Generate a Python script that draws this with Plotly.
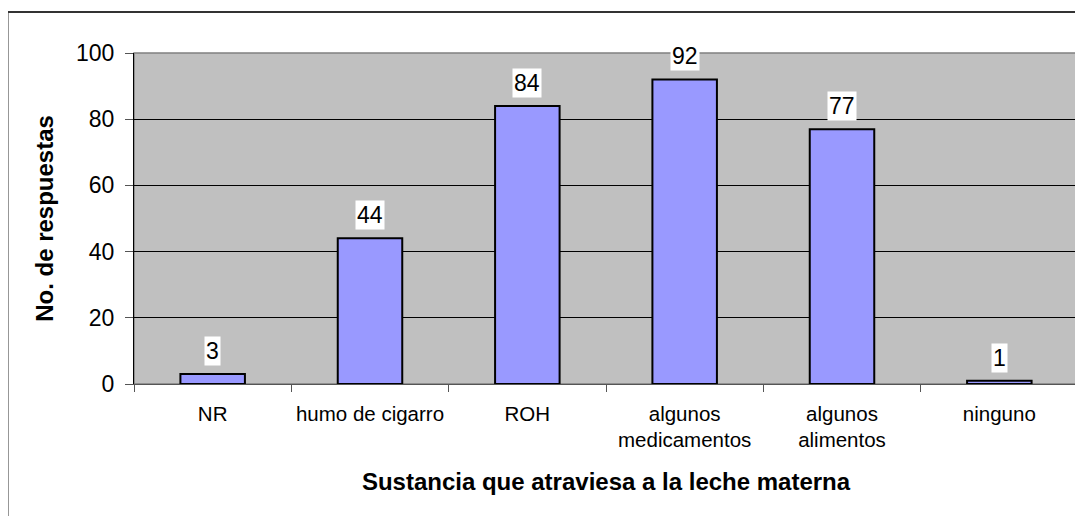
import plotly.graph_objects as go

CATEGORIES = ["NR", "humo de cigarro", "ROH", "algunos<br>medicamentos", "algunos<br>alimentos", "ninguno"]
VALUES = [3, 44, 84, 92, 77, 1]
Y_TICKS = [0, 20, 40, 60, 80, 100]

BAR_COLOR = "#9999FF"
PLOT_BG = "#C0C0C0"
FONT = "Liberation Sans, Arial, sans-serif"

fig = go.Figure()
fig.add_trace(go.Bar(
    x=CATEGORIES, y=VALUES,
    marker=dict(color=BAR_COLOR, line=dict(color="black", width=2)),
    width=0.41,
    hoverinfo="x+y",
))

# value labels with white boxes, as in the original spreadsheet chart
for cat, val in zip(CATEGORIES, VALUES):
    fig.add_annotation(
        x=cat, y=val, text=str(val), showarrow=False,
        yanchor="bottom", yshift=8,
        bgcolor="white", borderpad=1,
        font=dict(family=FONT, size=23, color="black"),
    )

# outer chart border (right and bottom edges fall outside the picture)
fig.add_shape(
    type="rect", xref="paper", yref="paper",
    x0=-0.134, x1=1.2, y0=-0.6, y1=1.124,
    line=dict(color="#333333", width=2), layer="below",
)

# page body has an 8px margin, so the figure is a bit smaller than the window
fig.update_layout(
    width=1075, height=508,
    margin=dict(l=126, r=5, t=45, b=132),
    paper_bgcolor="white",
    plot_bgcolor=PLOT_BG,
    showlegend=False,
    font=dict(family=FONT, color="black"),
    xaxis=dict(
        tickson="boundaries", ticks="outside", ticklen=7, tickcolor="#555555",
        showline=True, linecolor="#555555", linewidth=1, mirror=False,
        tickfont=dict(size=20.5), showgrid=False, ticklabelstandoff=11,
        title=dict(text="<b>Sustancia que atraviesa a la leche materna</b>",
                   font=dict(size=24), standoff=22),
    ),
    yaxis=dict(
        range=[0, 100], tickvals=Y_TICKS, ticks="outside", ticklen=8,
        tickcolor="#555555", showline=True, linecolor="black", linewidth=1,
        gridcolor="black", gridwidth=1, zeroline=False,
        tickfont=dict(size=23), ticklabelstandoff=6,
        title=dict(text="<b>No. de respuestas</b>", font=dict(size=24), standoff=15),
    ),
)
# grey frame on the top and right of the plot area
fig.add_shape(
    type="rect", xref="paper", yref="paper", x0=0, x1=1, y0=0, y1=1,
    line=dict(color="#808080", width=1.5), layer="below",
)

fig.write_html("out.html")
